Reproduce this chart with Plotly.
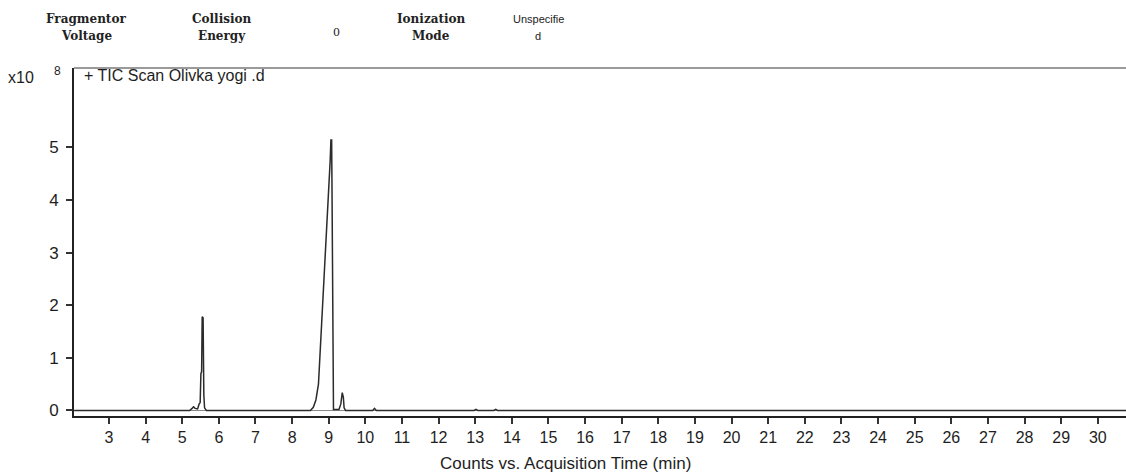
import plotly.graph_objects as go

# Total ion chromatogram, acquisition time (min) vs. counts (x10^8)
time_min = [2.05, 5.20, 5.27, 5.31, 5.35, 5.42, 5.46, 5.49, 5.51, 5.53, 5.545, 5.57, 5.59,
            5.61, 5.66, 8.50, 8.58, 8.65, 8.72, 8.76, 8.80, 8.84, 8.88, 8.92, 8.96, 9.00,
            9.02, 9.04, 9.06, 9.08, 9.09, 9.11, 9.12, 9.13, 9.28, 9.33, 9.37, 9.40, 9.42,
            9.46, 10.20, 10.25, 10.30, 12.97, 13.02, 13.07, 13.51, 13.56, 13.61, 30.8]
counts_e8 = [0.0, 0.0, 0.04, 0.07, 0.04, 0.03, 0.12, 0.15, 0.70, 0.74, 1.78, 1.76, 0.30,
             0.05, 0.0, 0.0, 0.06, 0.2, 0.5, 1.0, 1.5, 2.0, 2.5, 3.0, 3.5, 4.0,
             4.4, 4.75, 5.14, 5.14, 4.2, 2.0, 0.3, 0.02, 0.02, 0.12, 0.34, 0.25, 0.05,
             0.0, 0.0, 0.04, 0.0, 0.0, 0.02, 0.0, 0.0, 0.02, 0.0, 0.0]

x_ticks = list(range(3, 31))
y_ticks = [0, 1, 2, 3, 4, 5]

# Instrument parameter header: (x centre in px, line 1, line 2)
header_items = [
    (86, "Fragmentor", "Voltage"),
    (222, "Collision", "Energy"),
    (431, "Ionization", "Mode"),
]

W, H = 1126, 472
ML, MR, MT, MB = 74, 0, 68, 56
PW, PH = W - ML - MR, H - MT - MB

SANS = "Liberation Sans, Arial, sans-serif"
INK = "#1e1e1e"

fig = go.Figure()

# Zero baseline across the full window
fig.add_trace(go.Scatter(
    x=[2.045, 30.8], y=[0, 0], mode="lines",
    line=dict(color="#8a8a8a", width=1.2),
    hoverinfo="skip", showlegend=False,
))
fig.add_trace(go.Scatter(
    x=time_min, y=counts_e8, mode="lines",
    line=dict(color="#2b2b2b", width=1.5),
    hoverinfo="skip", showlegend=False,
))

fig.update_layout(
    width=W, height=H,
    margin=dict(l=ML, r=MR, t=MT, b=MB),
    paper_bgcolor="white", plot_bgcolor="white",
    xaxis=dict(
        range=[2.045, 30.77], tickvals=x_ticks, ticktext=[str(v) for v in x_ticks],
        showgrid=False, zeroline=False, showline=True, linecolor="#222", linewidth=2,
        ticks="outside", ticklen=6, tickwidth=1.5, tickcolor="#333",
        tickfont=dict(family=SANS, size=16, color=INK),
    ),
    yaxis=dict(
        range=[-0.105, 6.51], tickvals=y_ticks, ticktext=[str(v) for v in y_ticks],
        showgrid=False, zeroline=False, showline=True, linecolor="#222", linewidth=2,
        ticks="outside", ticklen=6, tickwidth=1.5, tickcolor="#333",
        tickfont=dict(family=SANS, size=17, color=INK),
        ticklabelstandoff=4,
    ),
    showlegend=False,
)

# Top frame line of the plot panel
fig.add_shape(type="line", xref="paper", yref="paper", x0=0, x1=1, y0=1, y1=1,
              line=dict(color="#9a9a9a", width=2))

def px_x(px):
    return (px - ML) / PW

def px_y(py):
    return (MT + PH - py) / PH

def label(px, py, text, font, xanchor="center"):
    fig.add_annotation(x=px_x(px), y=px_y(py), xref="paper", yref="paper", showarrow=False,
                       text=text, font=font, xanchor=xanchor, yanchor="middle")

serif_bold = dict(family="DejaVu Serif, serif", size=12, color="#222")
for cx, l1, l2 in header_items:
    label(cx, 19, f"<b>{l1}</b>", serif_bold)
    label(cx, 36, f"<b>{l2}</b>", serif_bold)

label(336, 33, "0", dict(family="DejaVu Serif, serif", size=11, color="#222"))
small_sans = dict(family=SANS, size=11, color="#222")
label(538, 19, "Unspecifie", small_sans)
label(538, 36, "d", small_sans)

# Exponent of the y scale
label(6, 77, "x10", dict(family=SANS, size=16, color=INK), xanchor="left")
label(57, 71, "8", dict(family=SANS, size=12, color=INK))

# Trace title inside the panel
label(82, 76, "+ TIC Scan Olivka yogi .d", dict(family=SANS, size=16, color=INK), xanchor="left")

# X axis title, centred under the visible time range
label(565, 463, "Counts vs. Acquisition Time (min)", dict(family=SANS, size=17, color=INK))

fig.write_html("out.html")
